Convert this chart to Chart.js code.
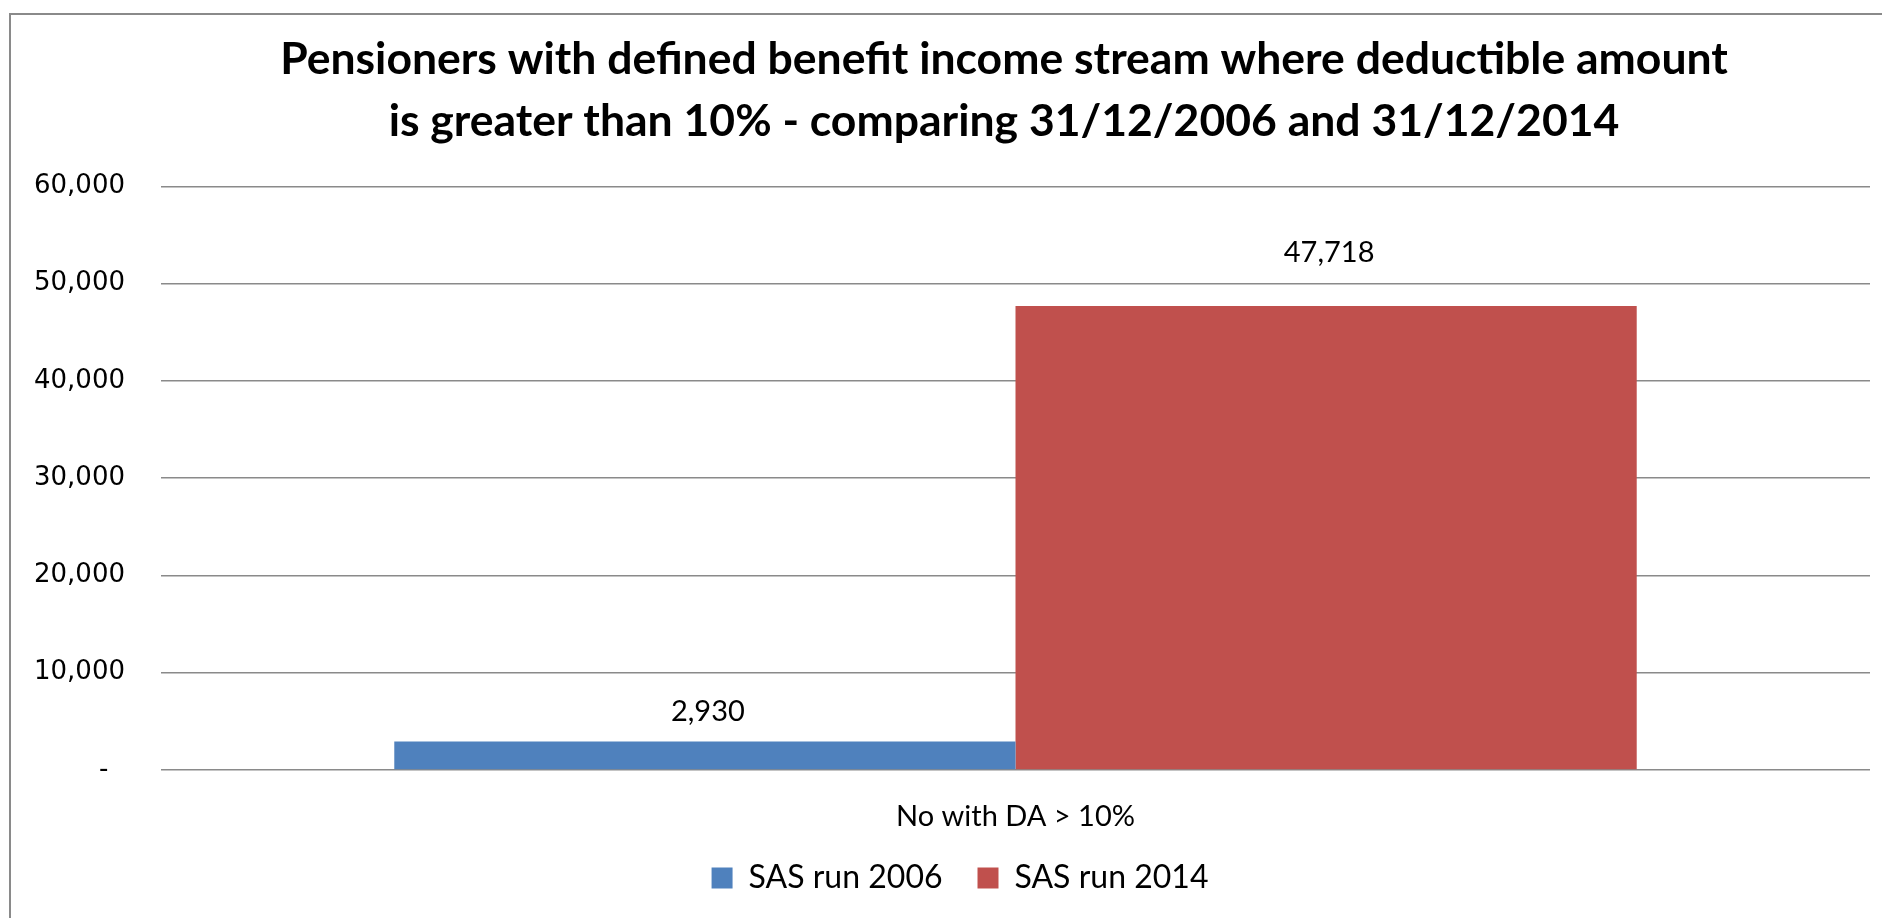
<!DOCTYPE html>
<html>
<head>
<meta charset="utf-8">
<title>Pensioners with DA > 10%</title>
<script src="https://cdn.jsdelivr.net/npm/chart.js@4.4.1/dist/chart.umd.min.js"></script>
<style>
  html, body { margin: 0; padding: 0; background: #fff; }
  #wrap { width: 1882px; height: 918px; position: relative; }
</style>
</head>
<body>
<div id="wrap"><canvas id="pensionChart"></canvas></div>
<script>
// chart values
const categories = ['No with DA > 10%'];
const seriesNames = ['SAS run 2006', 'SAS run 2014'];
const run2006 = [2930];
const run2014 = [47718];
const yTicks = [0, 10000, 20000, 30000, 40000, 50000, 60000];

const titleLines = [
    'Pensioners with defined benefit income stream where deductible amount',
    'is greater than 10% - comparing 31/12/2006 and 31/12/2014'
];

// outer grey frame, open at right and bottom like the source
const framePlugin = {
    id: 'frame',
    beforeDraw(chart) {
        const ctx = chart.ctx;
        ctx.save();
        ctx.fillStyle = '#fff';
        ctx.fillRect(0, 0, chart.width, chart.height);
        ctx.strokeStyle = '#8a8a8a';
        ctx.lineWidth = 2;
        ctx.strokeRect(10, 14, chart.width + 20, chart.height + 20);
        ctx.restore();
    }
};

// title and legend in the source sit a bit right of the canvas centre
const boxShift = {
    id: 'boxShift',
    afterLayout(chart) {
        if (chart.titleBlock) chart.titleBlock.left = 138;
        if (chart.legend) chart.legend.left = 50;
    }
};

// value labels above each bar
const valueLabels = {
    id: 'valueLabels',
    afterDatasetsDraw(chart, args, opts) {
        const ctx = chart.ctx;
        ctx.save();
        ctx.font = '29px Lato';
        ctx.fillStyle = '#000';
        ctx.textAlign = 'center';
        ctx.textBaseline = 'middle';
        chart.data.datasets.forEach((ds, di) => {
            const meta = chart.getDatasetMeta(di);
            meta.data.forEach((bar, i) => {
                const v = ds.data[i];
                ctx.fillText(v.toLocaleString('en-US'), bar.x + 3, bar.y - opts.offsets[di]);
            });
        });
        ctx.restore();
    }
};

const ctx = document.getElementById('pensionChart').getContext('2d');
new Chart(ctx, {
    type: 'bar',
    data: {
        labels: categories,
        datasets: [{
            label: seriesNames[0],
            data: run2006,
            backgroundColor: '#4F81BD',
            borderWidth: 0
        }, {
            label: seriesNames[1],
            data: run2014,
            backgroundColor: '#C0504D',
            borderWidth: 0
        }]
    },
    options: {
        responsive: true,
        maintainAspectRatio: false,
        animation: false,
        layout: { padding: { left: 0, right: 12, top: 0, bottom: 14 } },
        datasets: {
            bar: { categoryPercentage: 0.727, barPercentage: 1.0 }
        },
        scales: {
            x: {
                grid: { display: false },
                border: { display: false },
                ticks: {
                    color: '#000',
                    padding: 21,
                    font: { family: 'Lato', size: 29 }
                },
                afterFit: axis => { axis.height = 57; }
            },
            y: {
                min: 0,
                max: 60000,
                afterBuildTicks: axis => {
                    axis.ticks = yTicks.map(v => ({ value: v }));
                },
                grid: {
                    color: '#8a8a8a',
                    lineWidth: 1.5,
                    drawTicks: false
                },
                border: { display: false },
                ticks: {
                    color: '#000',
                    padding: 36,
                    font: { family: 'DejaVu Sans', size: 26 },
                    callback: v => v === 0 ? '-  ' : v.toLocaleString('en-US')
                },
                afterFit: axis => { axis.width = 161; }
            }
        },
        plugins: {
            title: {
                display: true,
                text: titleLines,
                color: '#000',
                font: { family: 'Lato', size: 44.5, weight: 'bold', lineHeight: 1.41 },
                padding: { top: 28, bottom: 33 }
            },
            legend: {
                position: 'bottom',
                labels: {
                    color: '#000',
                    boxWidth: 21,
                    boxHeight: 21,
                    padding: 35,
                    font: { family: 'Lato', size: 32 }
                }
            },
            tooltip: { enabled: false },
            valueLabels: { offsets: [30, 53] }
        }
    },
    plugins: [framePlugin, boxShift, valueLabels]
});
</script>
</body>
</html>
